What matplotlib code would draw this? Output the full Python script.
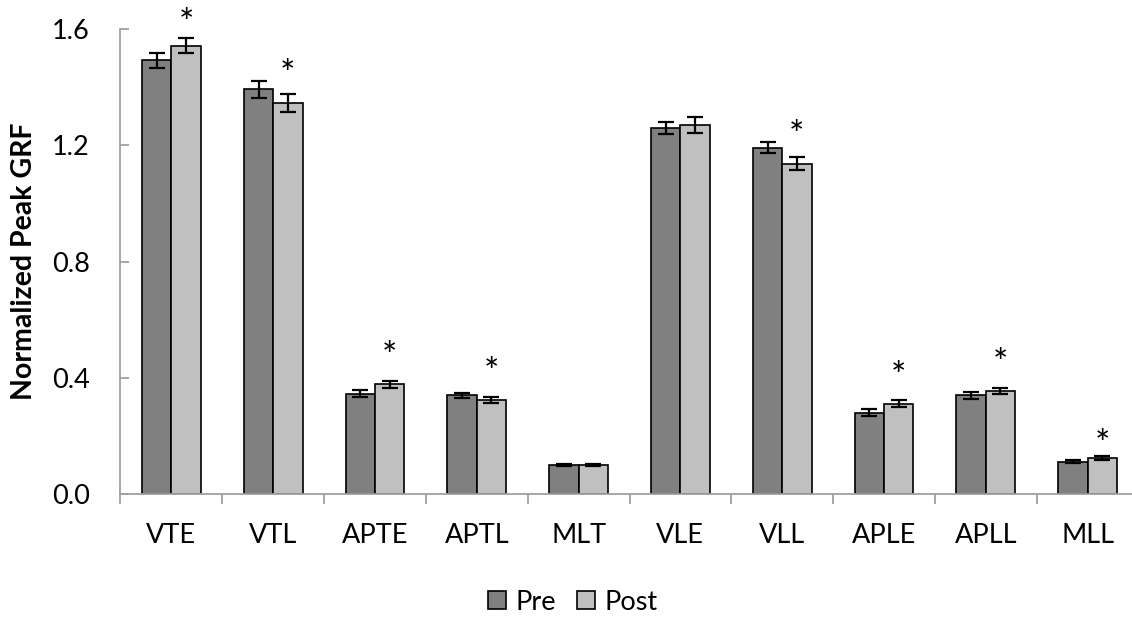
import matplotlib
matplotlib.use("Agg")
import matplotlib.pyplot as plt
import numpy as np
from matplotlib.patches import Patch

categories = ["VTE", "VTL", "APTE", "APTL", "MLT", "VLE", "VLL", "APLE", "APLL", "MLL"]
pre_vals = [1.492, 1.393, 0.346, 0.341, 0.100, 1.260, 1.191, 0.281, 0.340, 0.112]
pre_err = [0.026, 0.029, 0.013, 0.009, 0.004, 0.021, 0.019, 0.011, 0.011, 0.006]
post_vals = [1.543, 1.346, 0.378, 0.325, 0.100, 1.271, 1.137, 0.311, 0.356, 0.124]
post_err = [0.026, 0.031, 0.013, 0.010, 0.004, 0.027, 0.022, 0.012, 0.011, 0.007]
# asterisk (significance) marks above the Post bar: category index and height
star_idx = [0, 1, 2, 3, 6, 7, 8, 9]
star_y = [1.648, 1.470, 0.503, 0.448, 1.262, 0.433, 0.479, 0.200]
yticks = [0.0, 0.4, 0.8, 1.2, 1.6]
ytick_labels = ["0.0", "0.4", "0.8", "1.2", "1.6"]

FONT = "Lato"
plt.rcParams["font.family"] = [FONT, "DejaVu Sans"]
FS = 19.5

W, H = 1132, 617
fig = plt.figure(figsize=(W / 100, H / 100), dpi=100)
left_px, right_px = 120.5, 120.5 + 10 * 101.8
bottom_px, top_px = 494.3, 29.0
ax_w = right_px - left_px
ax = fig.add_axes([left_px / W, 1 - bottom_px / H, ax_w / W, (bottom_px - top_px) / H])

x = np.arange(len(categories)) + 0.5
bw = 0.288
ekw = dict(elinewidth=1.6, capthick=1.6, ecolor="black")
ax.bar(x - bw / 2, pre_vals, bw, color="#808080", edgecolor="black", linewidth=1.2,
       yerr=pre_err, capsize=5.5, error_kw=ekw, label="Pre", zorder=2)
ax.bar(x + bw / 2, post_vals, bw, color="#C0C0C0", edgecolor="black", linewidth=1.2,
       yerr=post_err, capsize=5.5, error_kw=ekw, label="Post", zorder=2)

for i, yv in zip(star_idx, star_y):
    ax.annotate("*", xy=(x[i] + bw / 2, yv), xytext=(0, -6.5), textcoords="offset points",
                ha="center", va="center", fontsize=26, fontfamily=FONT, color="black",
                annotation_clip=False)

ax.set_xlim(0, len(categories))
ax.set_ylim(0, 1.6)
ax.set_yticks(yticks)
ax.set_yticklabels(ytick_labels)
ax.set_xticks(np.arange(len(categories) + 1))
ax.set_xticklabels([])
ax.set_xticks(x, minor=True)
ax.set_xticklabels(categories, minor=True)

axis_color = "#A0A0A0"
for s in ["top", "right"]:
    ax.spines[s].set_visible(False)
for s in ["left", "bottom"]:
    ax.spines[s].set_color(axis_color)
    ax.spines[s].set_linewidth(1.3)
ax.tick_params(axis="y", direction="in", length=6.5, width=1.3, color=axis_color,
               labelsize=FS, pad=22)
ax.tick_params(axis="x", which="major", direction="out", length=7, width=1.3, color=axis_color)
ax.tick_params(axis="x", which="minor", length=0, labelsize=FS, pad=21)

ax.set_ylabel("Normalized Peak GRF", fontsize=20.5, fontweight="bold")
ax.yaxis.set_label_coords(-(left_px - 37) / ax_w, 0.5)

handles = [Patch(facecolor="#808080", edgecolor="black", linewidth=1.2, label="Pre"),
           Patch(facecolor="#C0C0C0", edgecolor="black", linewidth=1.2, label="Post")]
fig.legend(handles=handles, loc="center", bbox_to_anchor=(573 / W, 1 - 602 / H),
           ncol=2, frameon=False, fontsize=FS, handlelength=0.65, handleheight=0.65,
           handletextpad=0.36, columnspacing=0.78, borderpad=0, borderaxespad=0)

fig.savefig("out.png", dpi=100)
